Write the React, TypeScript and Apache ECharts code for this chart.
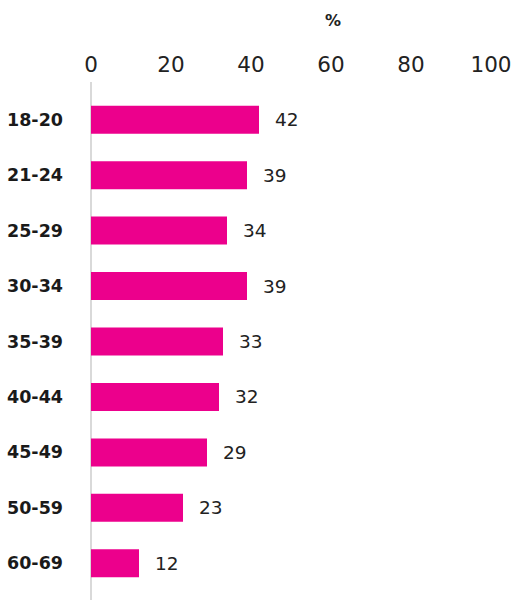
import React, { useEffect, useRef } from "react";
import * as echarts from "echarts";

const categories = ["18-20", "21-24", "25-29", "30-34", "35-39", "40-44", "45-49", "50-59", "60-69"];
const values = [42, 39, 34, 39, 33, 32, 29, 23, 12];
const xTicks = [0, 20, 40, 60, 80, 100];
const unitLabel = "%";

const MAGENTA = "#EC008C";
const FONT = "'DejaVu Sans', sans-serif";

export default function App() {
  const ref = useRef<HTMLDivElement>(null);
  useEffect(() => {
    if (!ref.current) return;
    const chart = echarts.init(ref.current, null, { renderer: "svg" });
    chart.setOption({
      animation: false,
      backgroundColor: "#ffffff",
      grid: { left: 91, right: 25, top: 92, bottom: 9, containLabel: false },
      xAxis: {
        type: "value",
        position: "top",
        min: xTicks[0],
        max: xTicks[xTicks.length - 1],
        interval: 20,
        axisLine: { show: false },
        axisTick: { show: false },
        splitLine: { show: false },
        axisLabel: {
          fontFamily: FONT,
          fontSize: 21.5,
          color: "#222222",
          margin: 17,
        },
      },
      yAxis: {
        type: "category",
        data: categories,
        inverse: true,
        axisLine: { show: false },
        axisTick: { show: false },
        axisLabel: {
          fontFamily: FONT,
          fontSize: 17.5,
          fontWeight: "bold",
          color: "#1a1a1a",
          margin: 28,
        },
      },
      graphic: [
        {
          type: "line",
          shape: { x1: 91, y1: 82, x2: 91, y2: 600 },
          style: { stroke: "#cccccc", lineWidth: 1.5 },
          z: 0,
        },
        {
          type: "text",
          x: 333,
          y: 20,
          style: {
            text: unitLabel,
            fontFamily: FONT,
            fontSize: 16,
            fontWeight: "bold",
            fill: "#222222",
            align: "center",
            verticalAlign: "middle",
          },
        },
      ],
      series: [
        {
          type: "bar",
          data: values,
          barWidth: 28,
          itemStyle: { color: MAGENTA },
          z: 3,
          label: {
            show: true,
            position: "right",
            distance: 16,
            fontFamily: FONT,
            fontSize: 18.5,
            color: "#222222",
          },
        },
      ],
    });
    return () => chart.dispose();
  }, []);
  return <div ref={ref} style={{ position: "fixed", left: 0, top: 0, width: 516, height: 600 }} />;
}
